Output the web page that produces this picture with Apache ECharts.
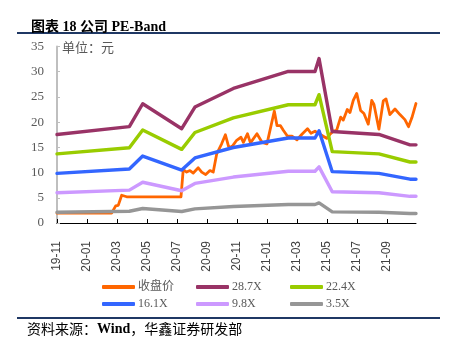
<!DOCTYPE html>
<html>
<head>
<meta charset="utf-8">
<script src="https://cdn.jsdelivr.net/npm/echarts@6/dist/echarts.min.js"></script>
<style>html,body{margin:0;padding:0;background:#fff;}#c{width:452px;height:355px;}</style>
</head>
<body>
<div id="c"></div>
<script>
// x values are month offsets from 2019-11 (0 = 19-11, 2 = 20-01, ...)
const tickLabels = ['19-11','20-01','20-03','20-05','20-07','20-09','20-11','21-01','21-03','21-05','21-07','21-09'];
const bandMonths = [0, 4.82, 5.71, 8.31, 9.19, 11.75, 15.41, 17.19, 17.46, 18.34, 21.45, 23.52, 23.92];
const pe287 = [17.56, 19.10, 23.65, 18.70, 22.99, 26.69, 30.05, 30.05, 32.60, 18.14, 17.56, 15.50, 15.50];
const pe224 = [13.71, 14.91, 18.46, 14.60, 17.94, 20.83, 23.45, 23.45, 25.45, 14.16, 13.71, 12.10, 12.10];
const pe161 = [9.85, 10.71, 13.27, 10.49, 12.90, 14.97, 16.86, 16.86, 18.29, 10.18, 9.85, 8.69, 8.69];
const pe98  = [6.00, 6.52, 8.08, 6.39, 7.85, 9.11, 10.26, 10.26, 11.13, 6.19, 6.00, 5.29, 5.29];
const pe35  = [2.14, 2.33, 2.88, 2.28, 2.80, 3.26, 3.66, 3.66, 3.98, 2.21, 2.14, 1.89, 1.89];
const priceMonths = [0, 3.64, 3.91, 4.08, 4.31, 4.64, 8.26, 8.41, 8.64, 8.86, 9.08, 9.41, 9.64, 9.91, 10.19, 10.41,
  10.64, 10.97, 11.22, 11.43, 11.63, 11.97, 12.26, 12.42, 12.69, 12.89, 13.32, 13.66, 13.99, 14.48, 14.66, 14.89,
  15.09, 15.36, 15.66, 15.99, 16.32, 16.69, 16.92, 17.19, 17.52, 17.74, 17.97, 18.19, 18.41, 18.63, 18.90, 19.07,
  19.34, 19.52, 19.74, 19.97, 20.23, 20.45, 20.74, 20.97, 21.12, 21.45, 21.74, 21.92, 22.18, 22.52, 22.85, 23.18,
  23.42, 23.65, 23.92];
const price = [1.95, 1.95, 3.4, 3.5, 5.5, 5.2, 5.2, 10.6, 10.1, 10.4, 9.9, 10.95, 10.1, 9.6, 10.4, 10.1,
  13.7, 15.7, 17.5, 15.2, 15.0, 16.4, 17.0, 16.0, 17.7, 15.9, 17.7, 16.0, 15.7, 22.2, 19.3, 19.3,
  18.35, 17.2, 17.2, 16.5, 17.6, 18.7, 17.8, 18.2, 17.6, 17.2, 16.8, 17.6, 18.2, 18.35, 21.0, 20.4,
  22.5, 21.9, 24.3, 25.7, 22.3, 21.7, 19.6, 24.3, 23.5, 18.6, 24.2, 24.6, 21.5, 22.6, 21.5, 20.5,
  19.1, 20.9, 23.7];
const seriesNames = ['收盘价','28.7X','22.4X','16.1X','9.8X','3.5X'];
const colors = ['#FF6600','#993366','#99CC00','#3366FF','#CC99FF','#969696'];

const zip = (xs, ys) => xs.map((x, i) => [x, ys[i]]);
const seriesData = [zip(priceMonths, price), zip(bandMonths, pe287), zip(bandMonths, pe224),
  zip(bandMonths, pe161), zip(bandMonths, pe98), zip(bandMonths, pe35)];

const serif = "'Liberation Serif','Noto Sans CJK SC'";
const legendPos = [[102,281],[196,281],[290,281],[102,298],[196,298],[290,298]];

const chart = echarts.init(document.getElementById('c'), null, {renderer:'canvas'});
chart.setOption({
  animation: false,
  backgroundColor: '#fff',
  title: {
    text: '图表 18 公司 PE-Band', left: 26, top: 15,
    textStyle: {fontSize: 14, fontWeight: 'bold', color: '#000', fontFamily: serif}
  },
  grid: {left: 57, right: 36, top: 46.5, bottom: 132},
  legend: seriesNames.map((n, i) => ({
    data: [n], left: legendPos[i][0], top: legendPos[i][1], padding: 0,
    itemWidth: 33, itemHeight: 4, icon: 'roundRect', itemGap: 0,
    textStyle: {fontSize: 12, color: '#595959', fontFamily: serif, padding: [0,0,0,-2]}
  })),
  xAxis: {
    type: 'value', min: 0, max: 23.92, interval: 2,
    axisLine: {show: true, lineStyle: {color: '#000', width: 1}},
    axisTick: {show: true, inside: true, length: 4, lineStyle: {color: '#000'}},
    splitLine: {show: false},
    axisLabel: {
      rotate: 90, margin: 18, fontSize: 12, color: '#404040', fontFamily: "'Liberation Sans'",
      showMaxLabel: false,
      formatter: v => { const k = Math.round(v / 2); return (Math.abs(v - 2 * k) < 1e-6 && tickLabels[k]) ? tickLabels[k] : ''; }
    }
  },
  yAxis: {
    type: 'value', min: 0, max: 35, interval: 5,
    axisLine: {show: true, lineStyle: {color: '#BFBFBF', width: 2}},
    axisTick: {show: true, inside: true, length: 3, lineStyle: {color: '#BFBFBF'}},
    splitLine: {show: false},
    axisLabel: {margin: 13, fontSize: 13, color: '#595959', fontFamily: serif}
  },
  series: seriesNames.map((n, i) => ({
    name: n, type: 'line', data: seriesData[i], showSymbol: false, symbol: 'none',
    color: colors[i],
    lineStyle: {color: colors[i], width: i === 0 ? 2.8 : 3.4, cap: 'round', join: 'round'},
    z: 2 + i
  })),
  graphic: [
    {type: 'line', shape: {x1: 17, y1: 33, x2: 440, y2: 33}, style: {stroke: '#1F3864', lineWidth: 2}},
    {type: 'line', shape: {x1: 17, y1: 318, x2: 440, y2: 318}, style: {stroke: '#1F3864', lineWidth: 2}},
    {type: 'text', x: 62, y: 49, style: {text: '单位：元', fontSize: 13, fill: '#595959', fontFamily: serif, verticalAlign: 'middle'}},
    {type: 'text', x: 27, y: 329, style: {
      text: '{a|资料来源：}{b|Wind}{a|，华鑫证券研发部}', verticalAlign: 'middle',
      rich: {a: {fontSize: 14, fill: '#000', fontFamily: "'Noto Sans CJK SC'"}, b: {fontSize: 14, fontWeight: 'bold', fill: '#000', fontFamily: "'Liberation Serif'"}}
    }}
  ]
});
</script>
</body>
</html>
